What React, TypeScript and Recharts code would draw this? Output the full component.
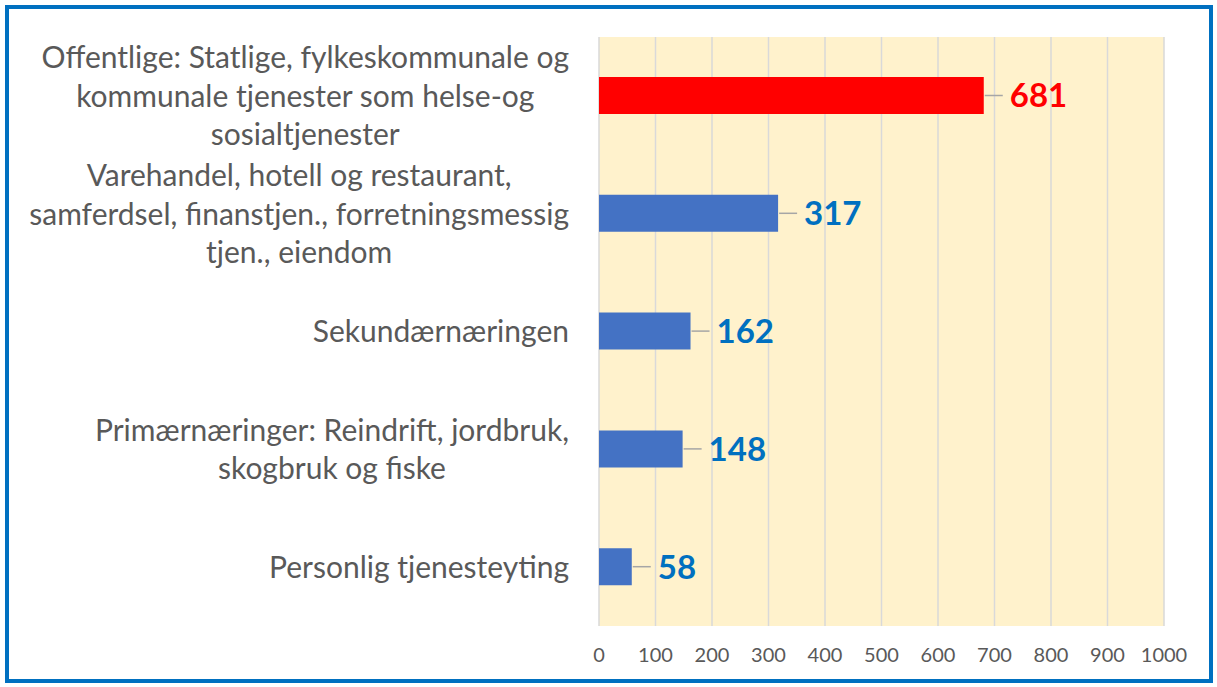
import React from "react";
import { BarChart, Bar, XAxis, YAxis, CartesianGrid, Cell, LabelList } from "recharts";

const categories = [
  "Offentlige: Statlige, fylkeskommunale og\nkommunale tjenester som helse-og\nsosialtjenester",
  "Varehandel, hotell og restaurant,\nsamferdsel, finanstjen., forretningsmessig\ntjen., eiendom",
  "Sekundærnæringen",
  "Primærnæringer: Reindrift, jordbruk,\nskogbruk og fiske",
  "Personlig tjenesteyting",
];
const values = [681, 317, 162, 148, 58];
const barColors = ["#FF0000", "#4472C4", "#4472C4", "#4472C4", "#4472C4"];
const labelColors = ["#FF0000", "#0070C0", "#0070C0", "#0070C0", "#0070C0"];
const xTicks = [0, 100, 200, 300, 400, 500, 600, 700, 800, 900, 1000];

const data = categories.map((c, i) => ({ name: c, value: values[i], idx: i }));

const FONT = "Lato, 'Noto Sans', sans-serif";
const CAT_SIZE = 30;

let ctx: CanvasRenderingContext2D | null = null;
function measure(t: string): number {
  if (!ctx) {
    const c = document.createElement("canvas");
    ctx = c.getContext("2d");
  }
  if (!ctx) return t.length * CAT_SIZE * 0.5;
  ctx.font = `${CAT_SIZE}px ${FONT}`;
  return ctx.measureText(t).width;
}

const CatTick = (props: any) => {
  const { x, y, payload } = props;
  const lines: string[] = String(payload.value).split("\n");
  const blockW = Math.max(...lines.map(measure));
  const cx = x - blockW / 2;
  const lh = 38.5;
  const start = y - ((lines.length - 1) * lh) / 2;
  return (
    <g>
      {lines.map((l, i) => (
        <text
          key={i}
          x={cx}
          y={start + i * lh}
          dy="0.36em"
          textAnchor="middle"
          fill="#595959"
          fontSize={CAT_SIZE}
          fontFamily={FONT}
        >
          {l}
        </text>
      ))}
    </g>
  );
};

const ValueLabel = (props: any) => {
  const { x, y, width, height, value, index } = props;
  const end = x + width;
  const cy = y + height / 2;
  return (
    <g>
      <line x1={end + 1} y1={cy} x2={end + 19} y2={cy} stroke="#A6A6A6" strokeWidth={1.5} />
      <text
        x={end + 26}
        y={cy}
        dy="0.36em"
        fill={labelColors[index]}
        fontSize={33}
        fontWeight="bold"
        fontFamily={FONT}
      >
        {value}
      </text>
    </g>
  );
};

export default function App() {
  return (
    <div
      style={{
        position: "absolute",
        left: 5,
        top: 5,
        width: 1208,
        height: 678,
        border: "4px solid #0070C0",
        boxSizing: "border-box",
        background: "#fff",
      }}
    >
      <BarChart
        width={1200}
        height={670}
        data={data}
        layout="vertical"
        margin={{ top: 28, right: 45, left: 0, bottom: 0 }}
      >
        <CartesianGrid horizontal={false} fill="#FFF2CC" stroke="#D9D9D9" strokeWidth={1.5} />
        <XAxis
          type="number"
          domain={[0, 1000]}
          ticks={xTicks}
          axisLine={false}
          tickLine={false}
          tickSize={0}
          tickMargin={22}
          height={53}
          interval={0}
          tick={{ fill: "#595959", fontSize: 20, fontFamily: FONT }}
        />
        <YAxis
          type="category"
          dataKey="name"
          width={590}
          axisLine={false}
          tickLine={false}
          tickSize={0}
          tickMargin={30}
          interval={0}
          tick={<CatTick />}
        />
        <Bar dataKey="value" barSize={37} isAnimationActive={false}>
          {data.map((d, i) => (
            <Cell key={i} fill={barColors[i]} />
          ))}
          <LabelList dataKey="value" content={<ValueLabel />} />
        </Bar>
      </BarChart>
    </div>
  );
}
